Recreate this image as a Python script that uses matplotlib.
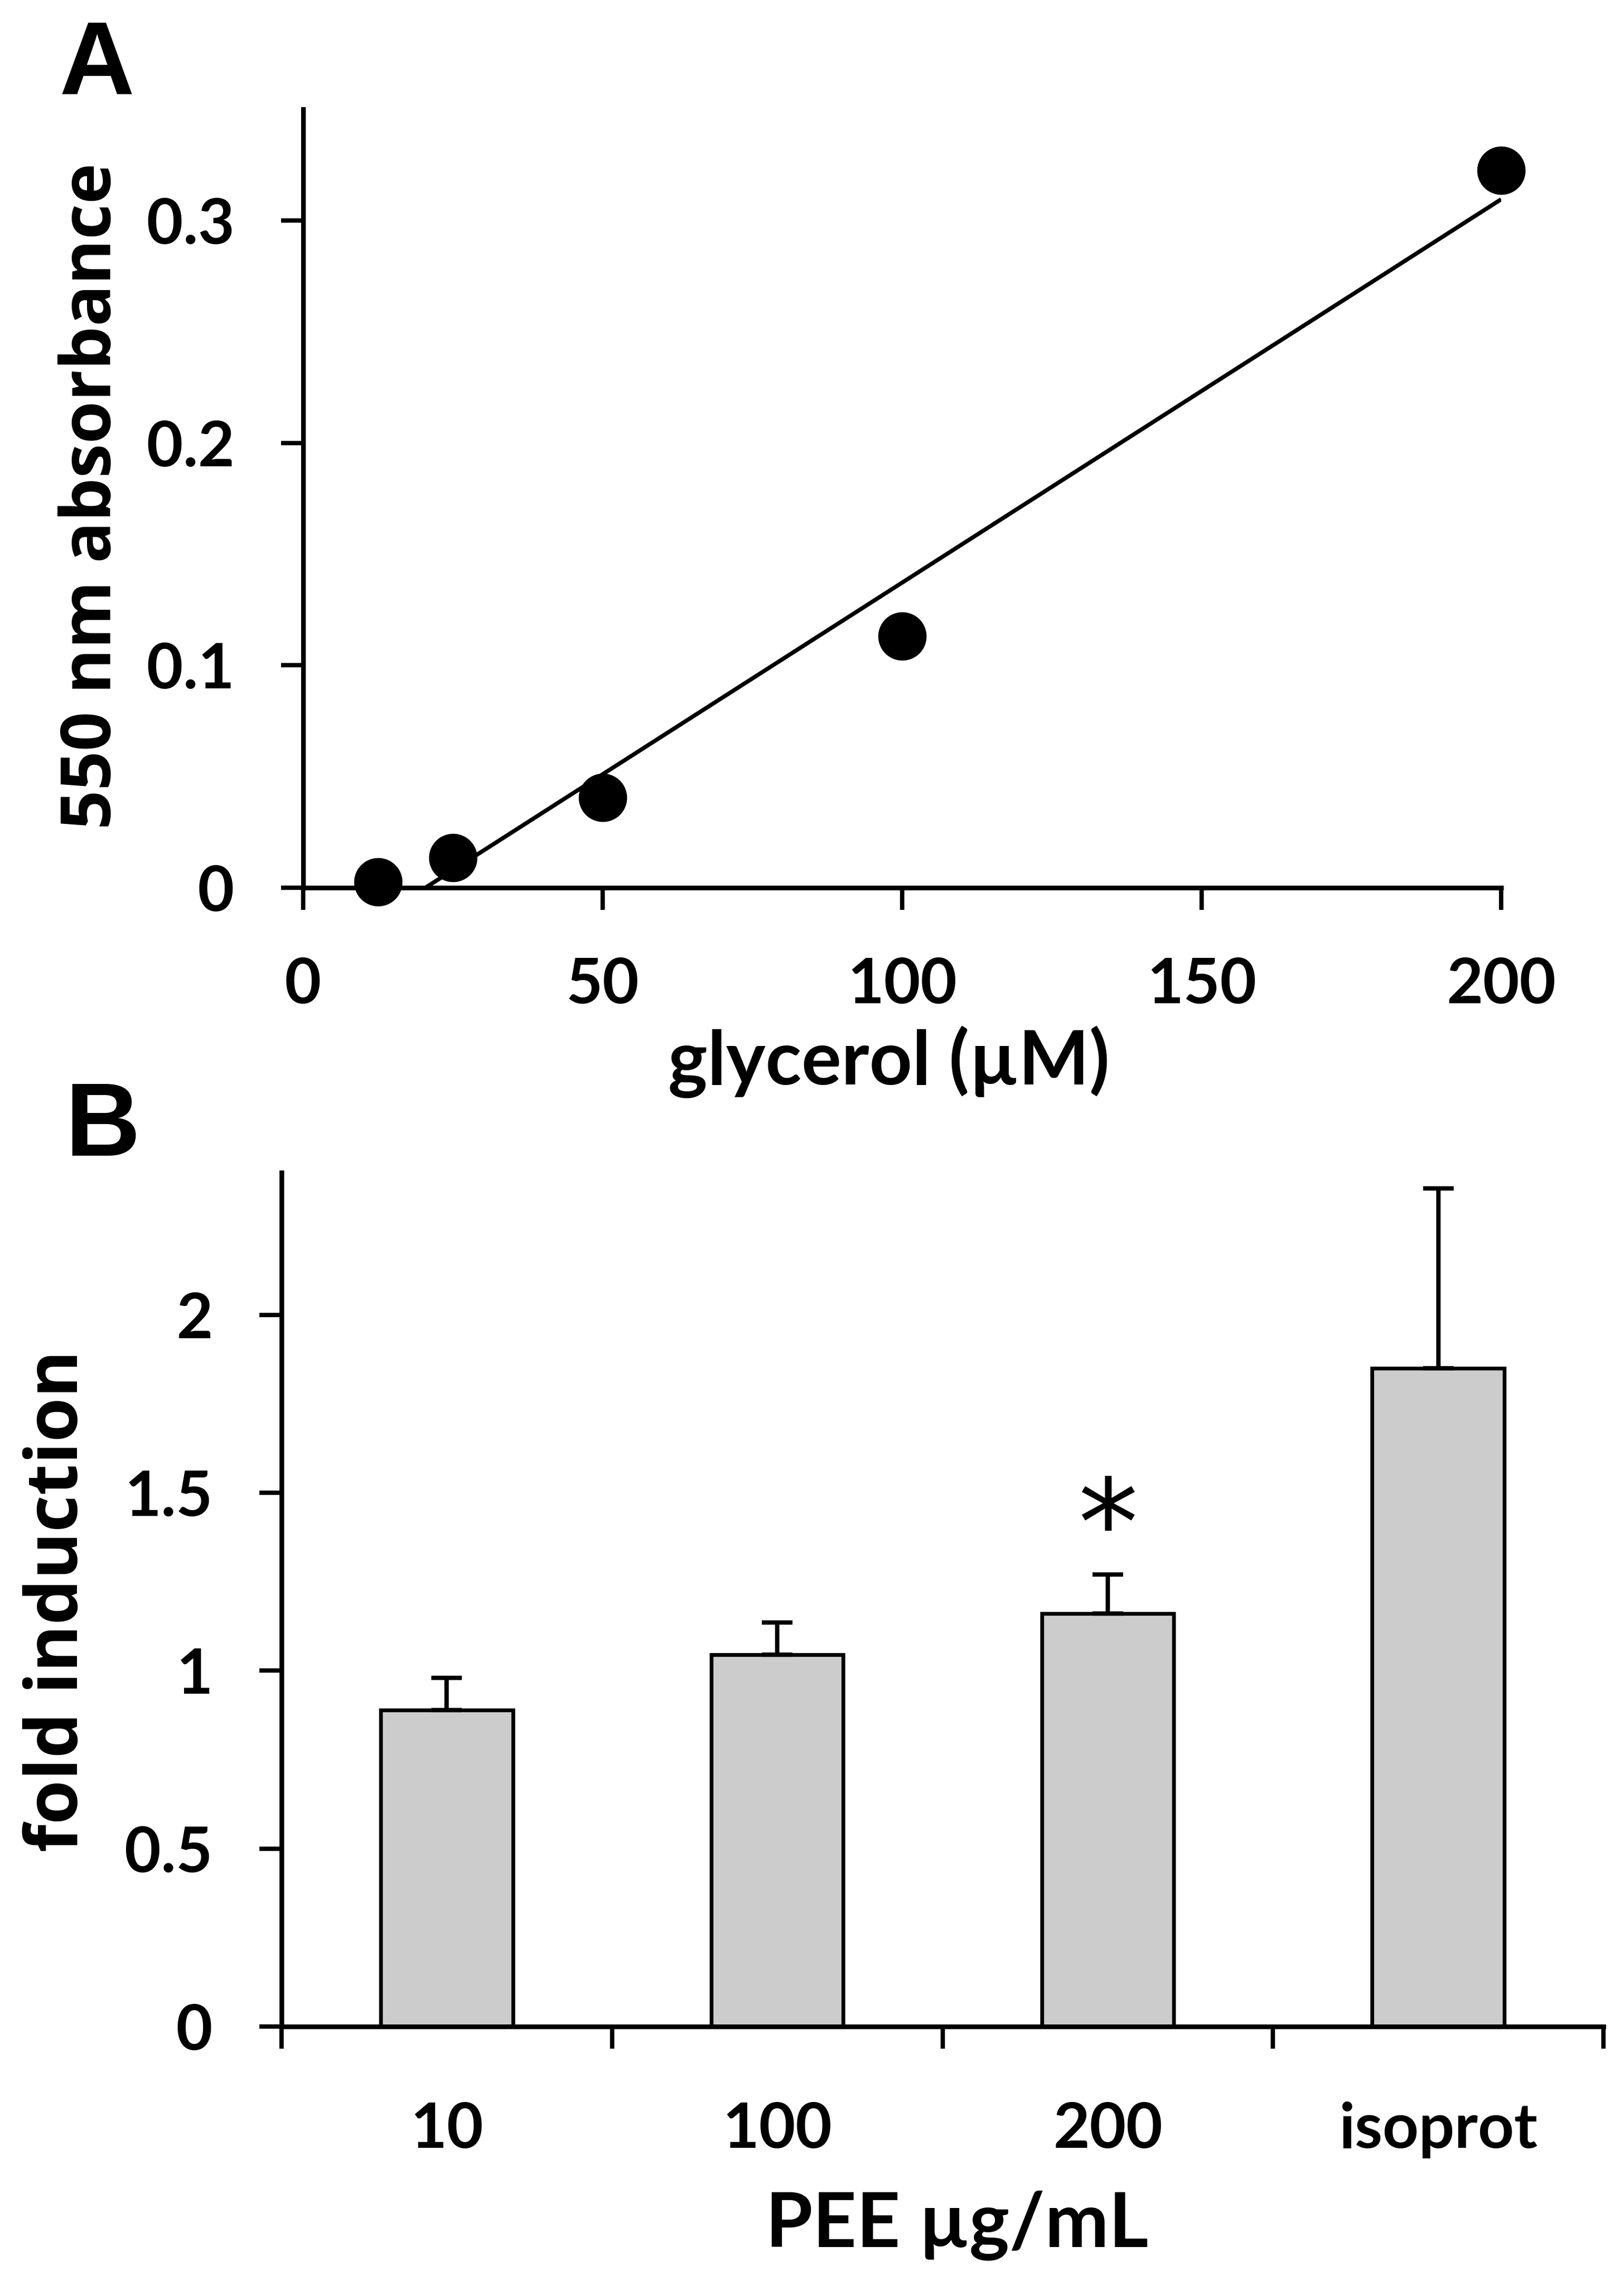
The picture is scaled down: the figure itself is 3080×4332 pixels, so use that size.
import numpy as np
import matplotlib
matplotlib.use('Agg')
import matplotlib.pyplot as plt
from matplotlib.ticker import FixedLocator, FixedFormatter, NullFormatter

# ---------------- Panel A data ----------------
glycerol_uM = [12.5, 25, 50, 100, 200]
absorbance_550 = [0.0025, 0.0135, 0.0405, 0.113, 0.3225]
a_xticks = [0, 50, 100, 150, 200]
a_xticklabels = ['0', '50', '100', '150', '200']
a_yticks = [0, 0.1, 0.2, 0.3]
a_yticklabels = ['0', '0.1', '0.2', '0.3']

# ---------------- Panel B data ----------------
categories = ['10', '100', '200', 'isoprot']
fold_induction = [0.89, 1.045, 1.16, 1.85]
fold_error = [0.09, 0.09, 0.11, 0.505]
significant = [False, False, True, False]
b_yticks = [0, 0.5, 1, 1.5, 2]
b_yticklabels = ['0', '0.5', '1', '1.5', '2']

W, H = 3080, 4332
DPI = 200
plt.rcParams['font.family'] = ['Lato', 'DejaVu Sans']
plt.rcParams['font.weight'] = 'bold'

fig = plt.figure(figsize=(W / DPI, H / DPI), dpi=DPI)
fig.patch.set_facecolor('white')

TICK_SIZE = 43
LABEL_FONT = dict(family=['Lato', 'DejaVu Sans'], weight='bold')
YLABEL_FONT = dict(family=['Open Sans', 'DejaVu Sans'], weight='bold')
SPINE_W = 3.2


def style_axes(ax):
    for s in ['top', 'right']:
        ax.spines[s].set_visible(False)
    for s in ['left', 'bottom']:
        ax.spines[s].set_linewidth(SPINE_W)
        ax.spines[s].set_color('black')
    ax.tick_params(axis='both', which='major', direction='out', length=15,
                   width=3, pad=32, labelsize=TICK_SIZE, colors='black')


# ---------------- Panel A ----------------
axA = fig.add_axes([575 / W, 1 - 1683 / H, (2847 - 575) / W, (1683 - 207) / H])
style_axes(axA)
axA.set_xlim(0, 200)
axA.set_ylim(0, 0.35)
axA.xaxis.set_major_locator(FixedLocator(a_xticks))
axA.xaxis.set_major_formatter(FixedFormatter(a_xticklabels))
axA.yaxis.set_major_locator(FixedLocator(a_yticks))
axA.yaxis.set_major_formatter(FixedFormatter(a_yticklabels))

coef = np.polyfit(glycerol_uM, absorbance_550, 1)
xs = np.array([min(glycerol_uM), max(glycerol_uM)])
axA.plot(xs, np.polyval(coef, xs), color='black', lw=2.8, zorder=2,
         solid_capstyle='butt')
axA.plot(glycerol_uM, absorbance_550, 'o', ms=32, color='black',
         clip_on=False, zorder=3)

axA.set_xlabel('glycerol (µM)', fontsize=51, **LABEL_FONT)
axA.xaxis.set_label_coords(0.489, -0.2527)
axA.xaxis.label.set_va('baseline')
axA.set_ylabel('550 nm absorbance', fontsize=47, **YLABEL_FONT)
axA.yaxis.set_label_coords(-0.1756, 0.5034)
axA.yaxis.label.set_va('center')

fig.text(112 / W, 1 - 178 / H, 'A', ha='left', va='baseline',
         family=['Liberation Sans', 'DejaVu Sans'], weight='bold', fontsize=71)

# ---------------- Panel B ----------------
axB = fig.add_axes([534 / W, 1 - 3842 / H, (3041 - 534) / W, (3842 - 2223) / H])
style_axes(axB)
xpos = np.arange(len(categories))
axB.bar(xpos, fold_induction, width=0.4, color='#cccccc', edgecolor='black',
        linewidth=2.6, zorder=2)
axB.errorbar(xpos, fold_induction, yerr=[np.zeros(len(fold_error)), fold_error],
             fmt='none', ecolor='black', elinewidth=3, capsize=10.5,
             capthick=3, zorder=3)
for xi, yi, ei, sig in zip(xpos, fold_induction, fold_error, significant):
    if sig:
        axB.text(xi, 1.39, '*', ha='center', va='center', fontsize=82,
                 family=['DejaVu Sans'], weight='normal')

axB.set_xlim(-0.5, len(categories) - 0.5)
axB.set_ylim(0, 2.4)
axB.xaxis.set_major_locator(FixedLocator(np.arange(len(categories) + 1) - 0.5))
axB.xaxis.set_major_formatter(NullFormatter())
axB.xaxis.set_minor_locator(FixedLocator(xpos))
axB.xaxis.set_minor_formatter(FixedFormatter(categories))
axB.tick_params(axis='x', which='minor', length=0, pad=51, labelsize=TICK_SIZE)
axB.yaxis.set_major_locator(FixedLocator(b_yticks))
axB.yaxis.set_major_formatter(FixedFormatter(b_yticklabels))

axB.set_xlabel('PEE µg/mL', fontsize=52, **LABEL_FONT)
axB.xaxis.set_label_coords(0.511, -0.258)
axB.xaxis.label.set_va('baseline')
axB.set_ylabel('fold induction', fontsize=49, **YLABEL_FONT)
axB.yaxis.set_label_coords(-0.1687, 0.4985)
axB.yaxis.label.set_va('center')

fig.text(124 / W, 1 - 2191 / H, 'B', ha='left', va='baseline',
         family=['Liberation Sans', 'DejaVu Sans'], weight='bold', fontsize=71)

fig.savefig('out.png', dpi=DPI, facecolor='white')
